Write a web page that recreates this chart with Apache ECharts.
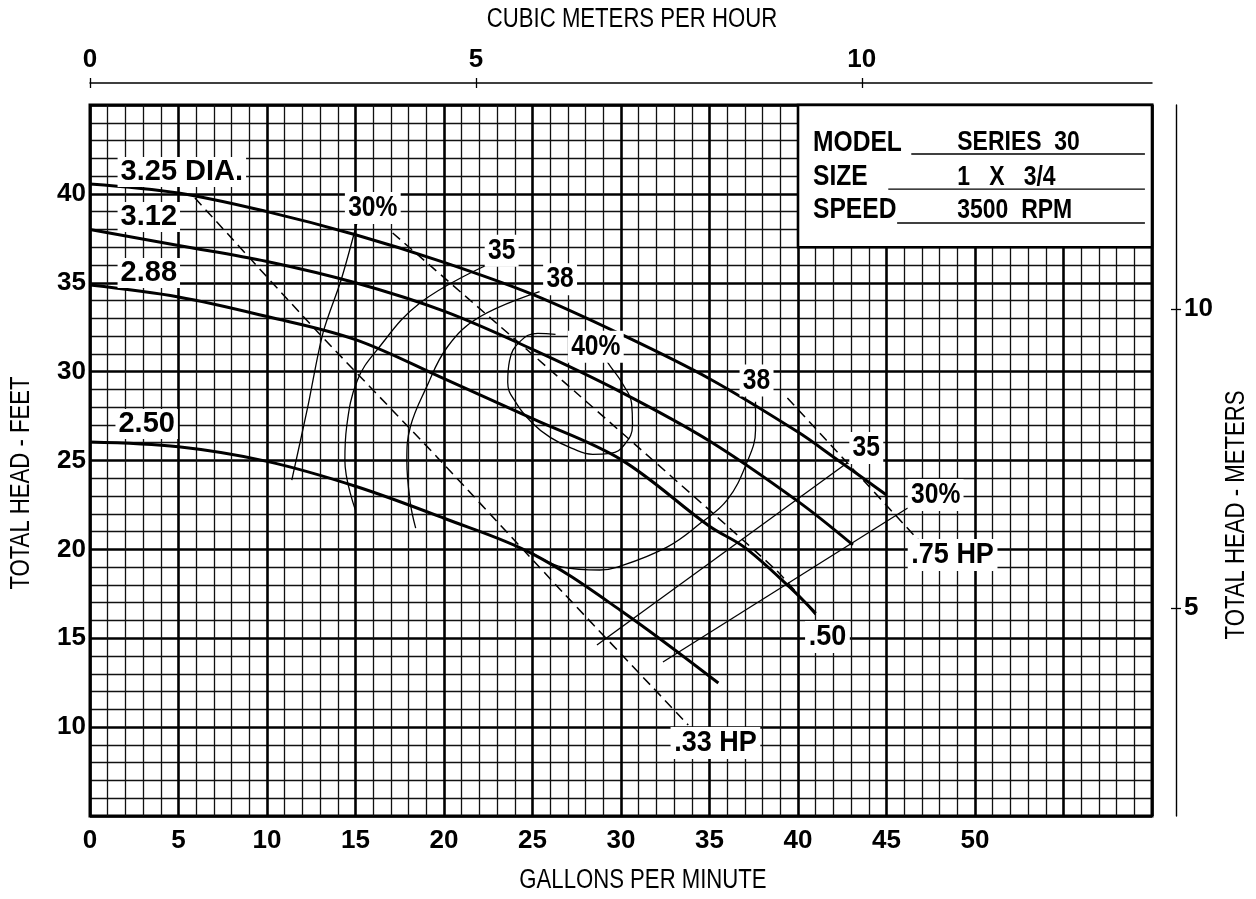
<!DOCTYPE html>
<html><head><meta charset="utf-8">
<script src="https://cdn.jsdelivr.net/npm/echarts@6/dist/echarts.min.js"></script>
<style>html,body{margin:0;padding:0;background:#fff}#c{width:1256px;height:899px}</style>
</head><body><div id="c"></div>
<script>
// ---------------- DATA ----------------
// Head-capacity curves: [gpm, feet]
const dia325 = [[0,40.56],[5,40.05],[10,39.0],[15,37.7],[20,36.15],[25,34.35],[30,32.1],[35,29.6],[40,26.6],[42,25.2],[45,23.06]];
const dia312 = [[0,38.0],[5,37.1],[10,36.2],[15,35.0],[20,33.4],[25,31.25],[30,28.85],[35,26.1],[40,22.7],[43.1,20.25]];
const dia288 = [[0,34.87],[5,34.2],[10,33.1],[15,31.8],[20,29.6],[25,27.35],[30,25.05],[35,21.3],[37,20.1],[39.5,17.9],[41,16.4]];
const dia250 = [[0,26.04],[5,25.77],[10,24.95],[15,23.55],[20,21.75],[25,19.75],[30,16.55],[35.5,12.48]];
// Power lines (dashed)
const hp033 = [[5.93,39.77],[12.6,32.51],[19.6,25.2],[26.7,17.6],[33.8,10.12]];
const hp050 = [[17.1,37.8],[27.6,28.7],[38.8,18.8],[41.0,16.3]];
const hp075 = [[39.4,28.52],[46.8,20.53]];
// Efficiency contours (thin)
const eff30a = [[15.08,38.36],[14.2,35.2],[13.16,32.17],[12.3,28.0],[11.4,23.9]];
const eff35a = [[22.43,36.0],[18.64,33.86],[16.2,31.2],[15.1,29.5],[14.5,26.9],[14.4,25.0],[15.0,22.2]];
const eff38a = [[25.4,34.5],[22.0,33.07],[20.2,31.4],[19.0,29.1],[18.1,26.9],[17.9,25.0],[18.1,22.6],[18.4,21.2]];
const eff38b = [[37.6,28.3],[37.6,26.7],[37.1,24.86],[36.0,22.78],[34.5,21.48],[32.6,20.13],[29.8,19.0],[28.8,18.84],[26.7,19.0],[25.0,19.8]];
const eff40  = [[26.3,32.1],[25.3,32.15],[24.3,31.7],[23.7,30.6],[23.6,29.4],[24.1,28.2],[25.0,27.1],[26.0,26.3],[27.2,25.7],[28.4,25.35],[29.4,25.4],[30.2,25.9],[30.65,27.0],[30.6,28.2],[30.1,29.3],[29.4,30.3],[28.9,31.0]];
const eff35b = [[42.77,24.86],[28.64,14.62]];
const eff30b = [[46.2,22.33],[32.37,13.66]];
// Labels: [text, gpm, feet]
const curveLabels = [['3.25 DIA.',1.53,41.23],['3.12',1.53,38.7],['2.88',1.53,35.55],['2.50',1.41,27.05]];
const effLabels = [['30%',14.4,39.2],['35',22.3,36.8],['38',25.6,35.2],['40%',27.0,31.4],['38',36.7,29.5],['35',42.9,25.7],['30%',46.2,23.06]];
const hpLabels = [['.75 HP',46.2,19.68],['.50',40.4,15.07],['.33 HP',32.8,9.1]];
// Axis tick labels
const gpmTicks = [0,5,10,15,20,25,30,35,40,45,50];
const feetTicks = [10,15,20,25,30,35,40];
const m3hTicks = [0,5,10];
const meterTicks = [5,10];
// Info box
const infoKeys = ['MODEL','SIZE','SPEED'];
const infoVals = ['SERIES  30','1   X   3/4','3500  RPM'];
const infoRows = [42.9,40.95,39.09];          // feet of each row centre
const infoRules = [[46.4,42.24],[45.1,40.27],[45.6,38.36]]; // underline start gpm, feet

// ---------------- STYLE ----------------
const WF = '"Liberation Sans", Arial, sans-serif';
const CONDENSE = 0.82;

const chart = echarts.init(document.getElementById('c'), null, {renderer:'canvas'});
const G = {left:90, top:105, width:1062, height:711};

function lineSeries(data, width, dash, smooth){
  return {type:'line', data:data, symbol:'none', smooth:smooth,
    lineStyle:{color:'#000', width:width, type: dash||'solid'}, z:3, silent:true, animation:false};
}

const series = [
  // info box
  {type:'custom', z:4, silent:true, clip:false, data:[[40,37,60,45]],
   renderItem:(p,api)=>{const a=api.coord([api.value(0),api.value(1)]), b=api.coord([api.value(2),api.value(3)]);
     return {type:'rect', shape:{x:a[0],y:b[1],width:b[0]-a[0],height:a[1]-b[1]},
       style:{fill:'#fff', stroke:'#000', lineWidth:2.6}};}},
  {type:'custom', z:5, silent:true, clip:false, data:infoRules.map(r=>[r[0],59.6,r[1]]),
   renderItem:(p,api)=>{const a=api.coord([api.value(0),api.value(2)]), b=api.coord([api.value(1),api.value(2)]);
     return {type:'line', shape:{x1:a[0],y1:a[1],x2:b[0],y2:b[1]}, style:{stroke:'#000', lineWidth:1.4}};}},
  lineSeries(dia325,3,null,0.35), lineSeries(dia312,3,null,0.35), lineSeries(dia288,3,null,0.35), lineSeries(dia250,3,null,0.35),
  lineSeries(hp033,1.5,[10,6],0.2), lineSeries(hp050,1.5,[10,6],0.2), lineSeries(hp075,1.5,[10,6],0),
  lineSeries(eff30a,1.3,null,0.3), lineSeries(eff35a,1.3,null,0.4), lineSeries(eff38a,1.3,null,0.4),
  lineSeries(eff38b,1.3,null,0.4), lineSeries(eff40,1.3,null,0.45), lineSeries(eff35b,1.3,null,0), lineSeries(eff30b,1.3,null,0),
  {type:'scatter', symbolSize:1, itemStyle:{color:'transparent', opacity:1}, z:10, silent:true,
    data:curveLabels.map(l=>({value:[l[1],l[2]], label:{formatter:l[0]}})),
    label:{show:true, position:'right', distance:0, color:'#000', fontFamily:WF, fontSize:29,
      fontWeight:'bold', backgroundColor:'#fff', padding:[1,3,0,3], align:'left', verticalAlign:'middle'}}
];

const gridLine = {show:true, lineStyle:{color:'#000', width:2.6}};
const minorLine = {show:true, lineStyle:{color:'#111', width:1.3}};
const tickFont = {fontFamily:WF, fontWeight:'bold', fontSize:26, color:'#000'};

const option = {
  animation:false,
  backgroundColor:'#fff',
  grid:{left:G.left, top:G.top, width:G.width, height:G.height, show:true, borderColor:'#000', borderWidth:3, backgroundColor:'#fff'},
  xAxis:[
    {type:'value', min:0, max:60, interval:5, position:'bottom',
     axisLine:{show:false}, axisTick:{show:false},
     axisLabel:Object.assign({customValues:gpmTicks, margin:12}, tickFont),
     splitLine:gridLine, minorTick:{show:false, splitNumber:5}, minorSplitLine:minorLine},
    {type:'value', min:0, max:13.76, position:'top', offset:22,
     axisLine:{show:true, onZero:false, lineStyle:{color:'#000', width:1.5}},
     axisTick:{show:true, length:5, customValues:m3hTicks, lineStyle:{color:'#000', width:1.3}},
     axisLabel:Object.assign({customValues:m3hTicks, margin:10}, tickFont), splitLine:{show:false}},
    {type:'value', min:0, max:13.76, position:'top', offset:22,
     axisLine:{show:false, onZero:false},
     axisTick:{show:true, inside:true, length:5, customValues:m3hTicks, lineStyle:{color:'#000', width:1.3}},
     axisLabel:{show:false}, splitLine:{show:false}}
  ],
  yAxis:[
    {type:'value', min:5, max:45, interval:5, position:'left',
     axisLine:{show:false}, axisTick:{show:false},
     axisLabel:Object.assign({customValues:feetTicks, margin:4}, tickFont),
     splitLine:gridLine, minorTick:{show:false, splitNumber:5}, minorSplitLine:minorLine},
    {type:'value', min:1.52, max:13.41, position:'right', offset:24,
     axisLine:{show:true, onZero:false, lineStyle:{color:'#000', width:1.4}},
     axisTick:{show:true, length:5, customValues:meterTicks, lineStyle:{color:'#000', width:1.3}},
     axisLabel:Object.assign({customValues:meterTicks, margin:8}, tickFont), splitLine:{show:false}},
    {type:'value', min:1.52, max:13.41, position:'right', offset:24,
     axisLine:{show:false, onZero:false},
     axisTick:{show:true, inside:true, length:5, customValues:meterTicks, lineStyle:{color:'#000', width:1.3}},
     axisLabel:{show:false}, splitLine:{show:false}}
  ],
  series: series
};
chart.setOption(option);

// ---------------- ANNOTATIONS (condensed text, placed through the grid's scales) ----------------
function px(x,y){ return chart.convertToPixel({gridIndex:0},[x,y]); }
function ctext(x,y,text,font,sx,rot,bg,align){
  const st = {text:text, font:font, fill:'#000', align:align||'left', verticalAlign:'middle'};
  if (bg) { st.backgroundColor = '#fff'; st.padding = [2,4,0,4]; }
  return {type:'text', x:x, y:y, scaleX:sx, rotation:rot||0, z:100, silent:true, style:st};
}
const gr = [];
const titleFont = 'normal 27px ' + WF;
gr.push(ctext(632,20,'CUBIC METERS PER HOUR',titleFont,CONDENSE,0,false,'center'));
gr.push(ctext(643,881,'GALLONS PER MINUTE',titleFont,CONDENSE,0,false,'center'));
gr.push(ctext(22,483,'TOTAL HEAD - FEET',titleFont,CONDENSE,Math.PI/2,false,'center'));
gr.push(ctext(1237,515,'TOTAL HEAD - METERS',titleFont,CONDENSE,Math.PI/2,false,'center'));
effLabels.forEach(l=>{const p=px(l[1],l[2]); gr.push(ctext(p[0],p[1],l[0],'bold 30px '+WF,CONDENSE,0,true));});
hpLabels.forEach(l=>{const p=px(l[1],l[2]); gr.push(ctext(p[0],p[1],l[0],'bold 30px '+WF,0.9,0,true));});
infoKeys.forEach((t,i)=>{const p=px(40.85,infoRows[i]); gr.push(ctext(p[0],p[1],t,'bold 30px '+WF,CONDENSE,0,false));});
infoVals.forEach((t,i)=>{const p=px(49.0,infoRows[i]); gr.push(ctext(p[0],p[1],t,'bold 28px '+WF,CONDENSE,0,false));});
chart.setOption({graphic: gr});
</script></body></html>
